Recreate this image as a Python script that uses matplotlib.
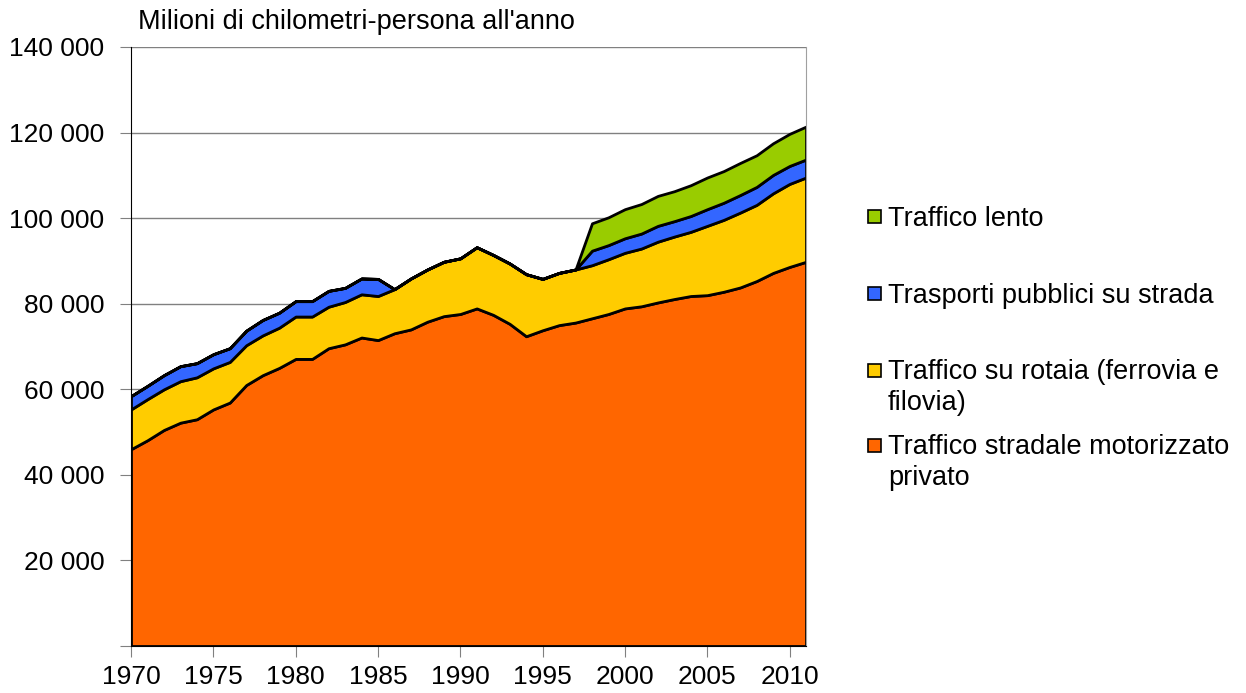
import numpy as np
import matplotlib
matplotlib.use("Agg")
import matplotlib.pyplot as plt
from matplotlib.patches import Rectangle

plt.rcParams['font.family'] = ['Liberation Sans', 'DejaVu Sans']

years = list(range(1970, 2012))

# Millions of person-km per year
privato = [46.0, 48.1, 50.5, 52.2, 53.0, 55.3, 56.9, 61.0, 63.3, 65.0,
           67.1, 67.1, 69.6, 70.5, 72.1, 71.5, 73.1, 74.0, 75.8, 77.1,
           77.6, 78.9, 77.4, 75.3, 72.4, 73.8, 75.0, 75.6, 76.6, 77.6,
           78.9, 79.4, 80.3, 81.1, 81.8, 82.0, 82.8, 83.8, 85.3, 87.2,
           88.6, 89.8]
rotaia = [9.3, 9.6, 9.5, 9.7, 9.8, 9.6, 9.5, 9.3, 9.3, 9.4,
          9.9, 9.9, 9.7, 9.9, 10.1, 10.3, 10.3, 11.9, 12.2, 12.7,
          13.0, 14.3, 14.0, 14.1, 14.5, 12.0, 12.2, 12.4, 12.4, 12.8,
          13.0, 13.5, 14.2, 14.6, 15.0, 16.2, 16.8, 17.5, 17.8, 18.6,
          19.4, 19.7]
pubblici = [3.1, 3.1, 3.3, 3.5, 3.3, 3.3, 3.2, 3.4, 3.6, 3.5,
            3.6, 3.6, 3.7, 3.3, 3.7, 4.0, 0, 0, 0, 0,
            0, 0, 0, 0, 0, 0, 0, 0, 3.4, 3.3,
            3.4, 3.5, 3.7, 3.6, 3.7, 3.9, 4.0, 4.1, 4.2, 4.3,
            4.2, 4.2]
lento = [0] * 28 + [6.4, 6.5,
                    6.8, 6.9, 7.0, 7.0, 7.2, 7.4, 7.4, 7.5, 7.4, 7.4,
                    7.5, 7.7]

labels = ["Traffico stradale motorizzato\nprivato",
          "Traffico su rotaia (ferrovia e\nfilovia)",
          "Trasporti pubblici su strada",
          "Traffico lento"]
colors = ["#FF6600", "#FFCC00", "#3366FF", "#99CC00"]

FS = 19.5

fig = plt.figure(figsize=(12.46, 6.93), dpi=100)
ax = fig.add_axes([131 / 1246, 47 / 693, 675 / 1246, 599 / 693])

series = [np.array(s) * 1000 for s in (privato, rotaia, pubblici, lento)]
ax.stackplot(years, *series, colors=colors, edgecolor='black', linewidth=2)

ax.set_xlim(1970, 2011)
ax.set_ylim(0, 140000)
ax.set_xticks(range(1970, 2011, 5))
yt = range(0, 140001, 20000)
ax.set_yticks(yt)
ax.set_yticklabels(['' if v == 0 else f"{v:,}".replace(',', ' ') for v in yt])
ax.grid(axis='y', color='#808080', linewidth=1)
ax.set_axisbelow(True)
ax.tick_params(axis='y', length=8, color='#808080', labelsize=19, pad=11)
ax.tick_params(axis='x', length=8, color='#808080', labelsize=19, pad=6)
ax.spines['top'].set_visible(False)
ax.spines['right'].set_color('#A0A0A0')
ax.spines['left'].set_color('black')
ax.spines['bottom'].set_color('black')

fig.text(138 / 1246, 1 - 22 / 693, "Milioni di chilometri-persona all'anno",
         fontsize=FS, va='center', ha='left')

# legend drawn by hand so squares line up with the first text line
leg_top = [226, 303, 380, 455]   # baseline of first text line, px from top
line_gap = 30
leg_order = [3, 2, 1, 0]
for yb, i in zip(leg_top, leg_order):
    nlines = labels[i].count('\n') + 1
    fig.patches.append(Rectangle((868 / 1246, 1 - (yb - 3) / 693), 13 / 1246, 13 / 693,
                                 transform=fig.transFigure, facecolor=colors[i],
                                 edgecolor='black', linewidth=1.2))
    # multi-line 'baseline' alignment anchors the last line
    y_last = yb + line_gap * (nlines - 1)
    fig.text(888 / 1246, 1 - y_last / 693, labels[i], fontsize=FS,
             va='baseline', ha='left', linespacing=1.23)

fig.savefig('out.png', dpi=100)
